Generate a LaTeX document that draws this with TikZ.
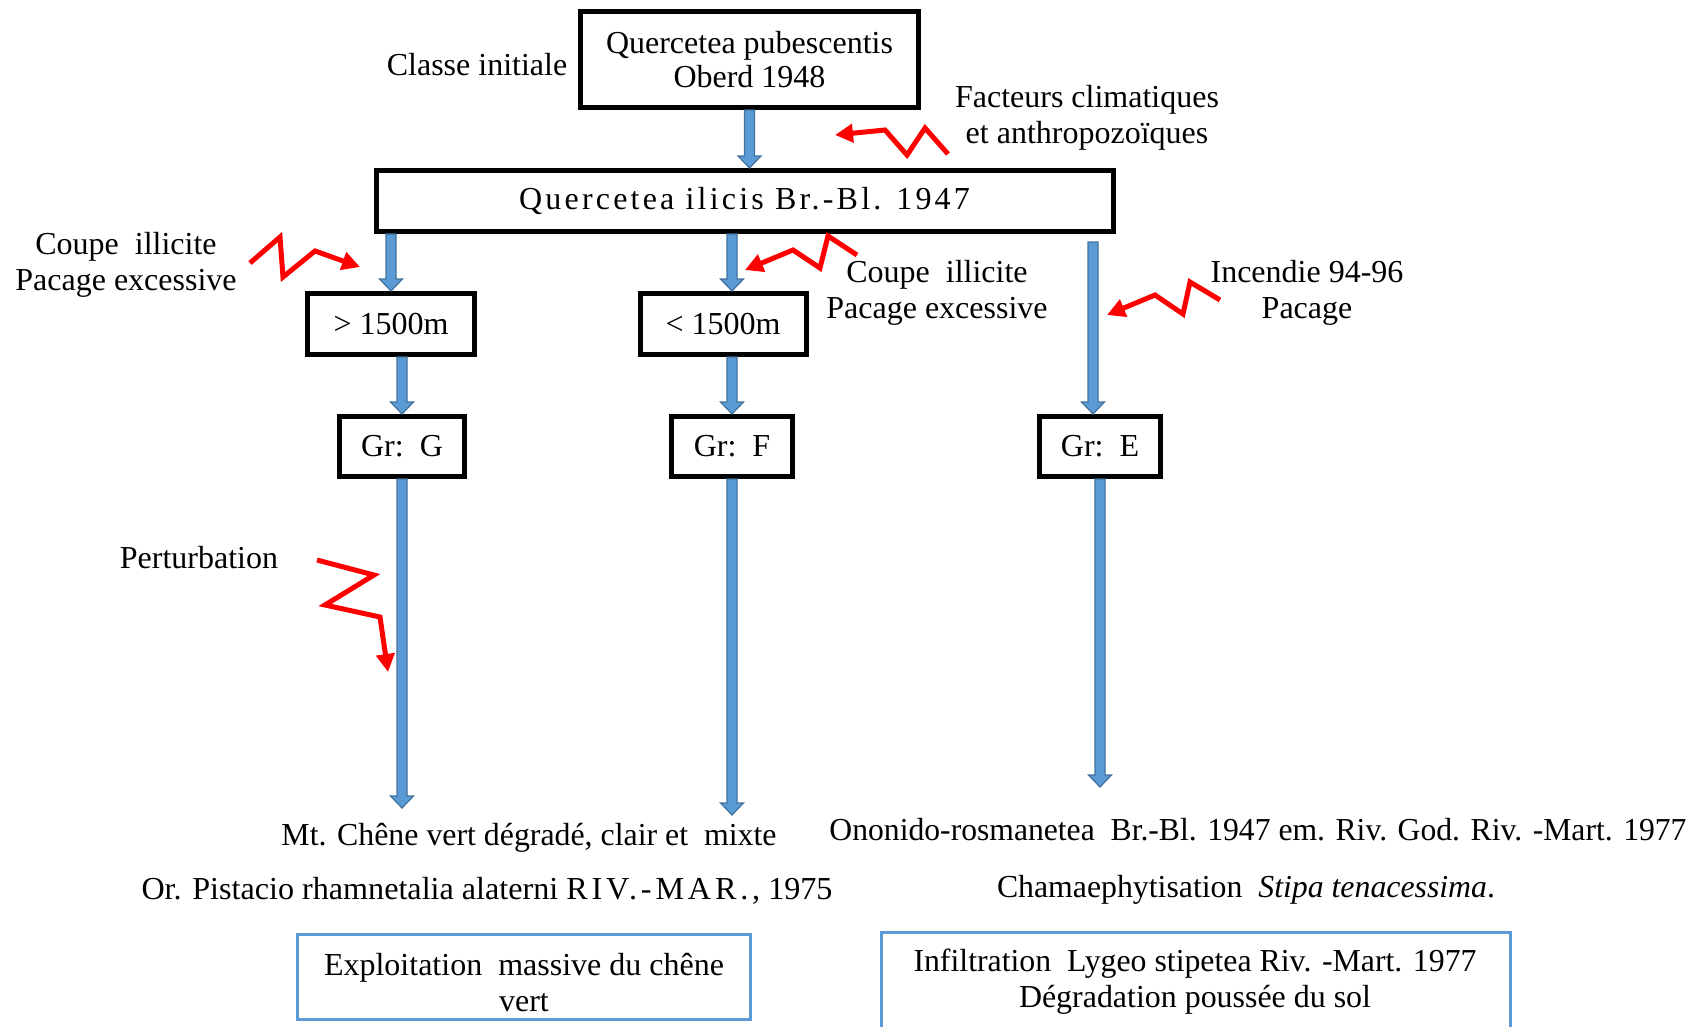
\documentclass[tikz,border=0pt]{standalone}
\usepackage{fontspec}
\usepackage{graphicx}
\setmainfont{Liberation Serif}
\usetikzlibrary{arrows.meta,calc}
\definecolor{arrowfill}{HTML}{5B9BD5}
\definecolor{arrowedge}{HTML}{41719C}
\definecolor{boxblue}{HTML}{5B9BD5}
% vertical block arrow from #1 straight down to the level of #2
\newcommand\blockarrow[2]{%
  \path[blockarrow] let \p1=#1, \p2=#2 in
    (\x1-5pt,\y1) -- (\x1-5pt,\y2+12pt) -- (\x1-11.5pt,\y2+12pt) -- (\x1,\y2)
    -- (\x1+11.5pt,\y2+12pt) -- (\x1+5pt,\y2+12pt) -- (\x1+5pt,\y1) -- cycle;}
% text squeezed horizontally to a given width
\newcommand\squeeze[2]{\resizebox{#1}{\height}{#2}}
\begin{document}
\begin{tikzpicture}[x=1pt,y=-1pt,
  font=\fontsize{32}{36}\selectfont,
  every node/.style={inner sep=0pt,align=center},
  blackbox/.style={draw=black,line width=5pt,fill=white},
  bluebox/.style={draw=boxblue,line width=3pt},
  blockarrow/.style={fill=arrowfill,draw=arrowedge,line width=1.2pt},
  hazard/.style={draw=red,line width=5pt,line join=miter,
    -{Triangle[length=18pt,width=18pt]}}]
\useasboundingbox (0,0) rectangle (1707,1026);

% boxes
\node[blackbox,minimum width=338pt,minimum height=96pt] (top) at (749.5,59.5)
  {\raisebox{-3pt}{\shortstack{Quercetea pubescentis\\[2pt]Oberd 1948}}};
\node[blackbox,minimum width=737pt,minimum height=61pt] (ilicis) at (744.5,201)
  {\addfontfeature{LetterSpace=10}Quercetea ilicis Br.-Bl. 1947};
\node[blackbox,minimum width=167pt,minimum height=61pt] (gt) at (391,324) {> 1500m};
\node[blackbox,minimum width=166pt,minimum height=61pt] (lt) at (723,324) {< 1500m};
\node[blackbox,minimum width=125pt,minimum height=60pt] (grg) at (402,446.5) {Gr:\ \ G};
\node[blackbox,minimum width=121pt,minimum height=60pt] (grf) at (732,446.5) {Gr:\ \ F};
\node[blackbox,minimum width=121pt,minimum height=60pt] (gre) at (1100,446.5) {Gr:\ \ E};

% arrow ends
\coordinate (eStart) at (1093,242);
\coordinate (gEnd) at (405,808);
\coordinate (fEnd) at (733,815);
\coordinate (eEnd) at (1101,787);

% blue block arrows
\blockarrow{(top.south)}{(ilicis.north)}
\blockarrow{(gt.north |- ilicis.south)}{(gt.north)}
\blockarrow{(grg.north |- gt.south)}{(grg.north)}
\blockarrow{(grg.south)}{(gEnd)}
\blockarrow{(grf.north |- ilicis.south)}{(lt.north)}
\blockarrow{(grf.north |- lt.south)}{(grf.north)}
\blockarrow{(grf.south)}{(fEnd)}
\blockarrow{(eStart)}{(gre.north)}
\blockarrow{(gre.south)}{(eEnd)}

% side labels
\node (classe) at (477,65) {Classe initiale};
\node (facteurs) at (1087,118) {Facteurs climatiques\\et anthropozoïques};
\node (coupeL) at (126,265) {Coupe\ \ illicite\\Pacage excessive};
\node (coupeM) at (937,293) {Coupe\ \ illicite\\Pacage excessive};
\node (incendie) at (1307,293) {Incendie 94-96\\Pacage};
\node (perturb) at (199,558) {Perturbation};

% red zigzag impacts
\draw[hazard] (948,154) -- (925,128) -- (907,155) -- (885,130) -- (835,135);
\draw[hazard] (250,263) -- (280,237) -- (283,277) -- (315,251) -- (360,267);
\draw[hazard] (857,255) -- (828,236) -- (820,268) -- (793,250) -- (745,270);
\draw[hazard] (1220,300) -- (1190,282) -- (1183,314) -- (1155,295) -- (1107,315);
\draw[hazard] (317,560) -- (374,575) -- (325,605) -- (380,617) -- (388,672);

% outcomes
\node (mt) at (529,838) {\squeeze{495pt}{Mt. Chêne vert dégradé, clair et\ \ mixte}};
\node (or) at (487,891) {\squeeze{691pt}{Or. Pistacio rhamnetalia alaterni {\addfontfeature{LetterSpace=12}RIV.-MAR.,} 1975}};
\node (onon) at (1258,830) {\squeeze{857pt}{Ononido-rosmanetea\ \ Br.-Bl. 1947 em. Riv. God. Riv. -Mart. 1977}};
\node (chama) at (1246,890) {\squeeze{498pt}{Chamaephytisation\ \ \textit{Stipa tenacessima}.}};

\node[bluebox,minimum width=453pt,minimum height=85pt] (lbox) at (524,977) {};
\node (ltext) at (524,983) {\squeeze{400pt}{Exploitation\ \ massive du chêne}\\vert};
\node[bluebox,minimum width=629pt,minimum height=110pt] (rbox) at (1196,987.5) {};
\node (rtext) at (1195,982) {\squeeze{563pt}{Infiltration\ \ Lygeo stipetea Riv. -Mart. 1977}\\\squeeze{352pt}{Dégradation poussée du sol}};
\end{tikzpicture}
\end{document}
